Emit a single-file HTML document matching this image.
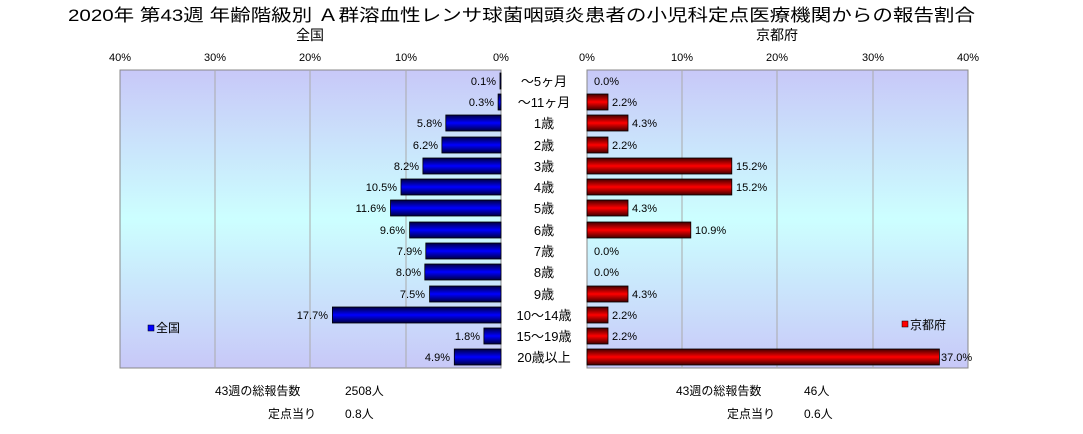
<!DOCTYPE html>
<html><head><meta charset="utf-8"><style>
body{margin:0;background:#fff;width:1083px;height:429px;overflow:hidden}
svg text{font-family:"Liberation Sans","Noto Sans CJK JP",sans-serif}
</style></head><body>
<svg width="1083" height="429" xmlns="http://www.w3.org/2000/svg">
<defs>
<linearGradient id="bg" x1="0" y1="0" x2="0" y2="1">
<stop offset="0" stop-color="#c8c8f8"/><stop offset="0.5" stop-color="#ccffff"/><stop offset="1" stop-color="#c8c8f8"/>
</linearGradient>
<linearGradient id="bl" x1="0" y1="0" x2="0" y2="1">
<stop offset="0" stop-color="#000040"/><stop offset="0.5" stop-color="#0000ff"/><stop offset="1" stop-color="#000040"/>
</linearGradient>
<linearGradient id="rd" x1="0" y1="0" x2="0" y2="1">
<stop offset="0" stop-color="#400000"/><stop offset="0.5" stop-color="#ff0000"/><stop offset="1" stop-color="#400000"/>
</linearGradient>
</defs>
<text x="68" y="21" font-size="17" textLength="907" lengthAdjust="spacingAndGlyphs">2020年 第43週 年齢階級別 Ａ群溶血性レンサ球菌咽頭炎患者の小児科定点医療機関からの報告割合</text>
<text x="310" y="40" font-size="14" text-anchor="middle">全国</text>
<text x="777" y="40" font-size="14" text-anchor="middle">京都府</text>
<rect x="120" y="70" width="381" height="298" fill="url(#bg)" stroke="#888"/>
<rect x="587" y="70" width="381" height="298" fill="url(#bg)" stroke="#888"/>
<g stroke="#aaa">
<line x1="215" y1="70" x2="215" y2="368"/><line x1="310" y1="70" x2="310" y2="368"/><line x1="406" y1="70" x2="406" y2="368"/>
<line x1="682" y1="70" x2="682" y2="368"/><line x1="777" y1="70" x2="777" y2="368"/><line x1="873" y1="70" x2="873" y2="368"/>
</g>
<g font-size="11" text-anchor="middle">
<text x="120" y="61">40%</text><text x="215" y="61">30%</text><text x="310" y="61">20%</text><text x="406" y="61">10%</text><text x="501" y="61">0%</text>
<text x="587" y="61">0%</text><text x="682" y="61">10%</text><text x="777" y="61">20%</text><text x="873" y="61">30%</text><text x="968" y="61">40%</text>
</g>
<g stroke="#000" stroke-width="0.8" fill="url(#bl)">
<rect x="500" y="73" width="1" height="16"/>
<rect x="498.1" y="94" width="2.9" height="16"/>
<rect x="445.8" y="115" width="55.2" height="16"/>
<rect x="441.9" y="137" width="59.1" height="16"/>
<rect x="422.9" y="158" width="78.1" height="16"/>
<rect x="401" y="179" width="100" height="16"/>
<rect x="390.5" y="200" width="110.5" height="16"/>
<rect x="409.6" y="222" width="91.4" height="16"/>
<rect x="425.8" y="243" width="75.2" height="16"/>
<rect x="424.8" y="264" width="76.2" height="16"/>
<rect x="429.6" y="286" width="71.4" height="16"/>
<rect x="332.4" y="307" width="168.6" height="16"/>
<rect x="483.9" y="328" width="17.1" height="16"/>
<rect x="454.3" y="349" width="46.7" height="16"/>
</g>
<g font-size="11" text-anchor="end">
<text x="496" y="85">0.1%</text>
<text x="494" y="106">0.3%</text>
<text x="442" y="127">5.8%</text>
<text x="438" y="149">6.2%</text>
<text x="419" y="170">8.2%</text>
<text x="397" y="191">10.5%</text>
<text x="386" y="212">11.6%</text>
<text x="405" y="234">9.6%</text>
<text x="422" y="255">7.9%</text>
<text x="421" y="276">8.0%</text>
<text x="425" y="298">7.5%</text>
<text x="328" y="319">17.7%</text>
<text x="480" y="340">1.8%</text>
<text x="450" y="361">4.9%</text>
</g>
<g stroke="#000" stroke-width="0.8" fill="url(#rd)">
<rect x="587" y="94" width="21" height="16"/>
<rect x="587" y="115" width="41" height="16"/>
<rect x="587" y="137" width="21" height="16"/>
<rect x="587" y="158" width="144.8" height="16"/>
<rect x="587" y="179" width="144.8" height="16"/>
<rect x="587" y="200" width="41" height="16"/>
<rect x="587" y="222" width="103.8" height="16"/>
<rect x="587" y="286" width="41" height="16"/>
<rect x="587" y="307" width="21" height="16"/>
<rect x="587" y="328" width="21" height="16"/>
<rect x="587" y="349" width="352.4" height="16"/>
</g>
<g font-size="11">
<text x="594" y="85">0.0%</text>
<text x="612" y="106">2.2%</text>
<text x="632" y="127">4.3%</text>
<text x="612" y="149">2.2%</text>
<text x="736" y="170">15.2%</text>
<text x="736" y="191">15.2%</text>
<text x="632" y="212">4.3%</text>
<text x="695" y="234">10.9%</text>
<text x="594" y="255">0.0%</text>
<text x="594" y="276">0.0%</text>
<text x="632" y="298">4.3%</text>
<text x="612" y="319">2.2%</text>
<text x="612" y="340">2.2%</text>
<text x="941" y="361">37.0%</text>
</g>
<g font-size="13" text-anchor="middle">
<text x="544" y="86">～5ヶ月</text>
<text x="544" y="107">～11ヶ月</text>
<text x="544" y="128">1歳</text>
<text x="544" y="150">2歳</text>
<text x="544" y="171">3歳</text>
<text x="544" y="192">4歳</text>
<text x="544" y="213">5歳</text>
<text x="544" y="235">6歳</text>
<text x="544" y="256">7歳</text>
<text x="544" y="277">8歳</text>
<text x="544" y="299">9歳</text>
<text x="544" y="320">10～14歳</text>
<text x="544" y="341">15～19歳</text>
<text x="544" y="362">20歳以上</text>
</g>
<rect x="148" y="325" width="6" height="6" fill="#00f" stroke="#000" stroke-width="0.5"/>
<text x="156" y="332" font-size="12">全国</text>
<rect x="902" y="321" width="6" height="6" fill="#f00" stroke="#000" stroke-width="0.5"/>
<text x="910" y="329" font-size="12">京都府</text>
<g font-size="12">
<text x="215" y="395">43週の総報告数</text><text x="345" y="395">2508人</text>
<text x="268" y="418">定点当り</text><text x="345" y="418">0.8人</text>
<text x="676" y="395">43週の総報告数</text><text x="804" y="395">46人</text>
<text x="727" y="418">定点当り</text><text x="804" y="418">0.6人</text>
</g>
</svg>
</body></html>
